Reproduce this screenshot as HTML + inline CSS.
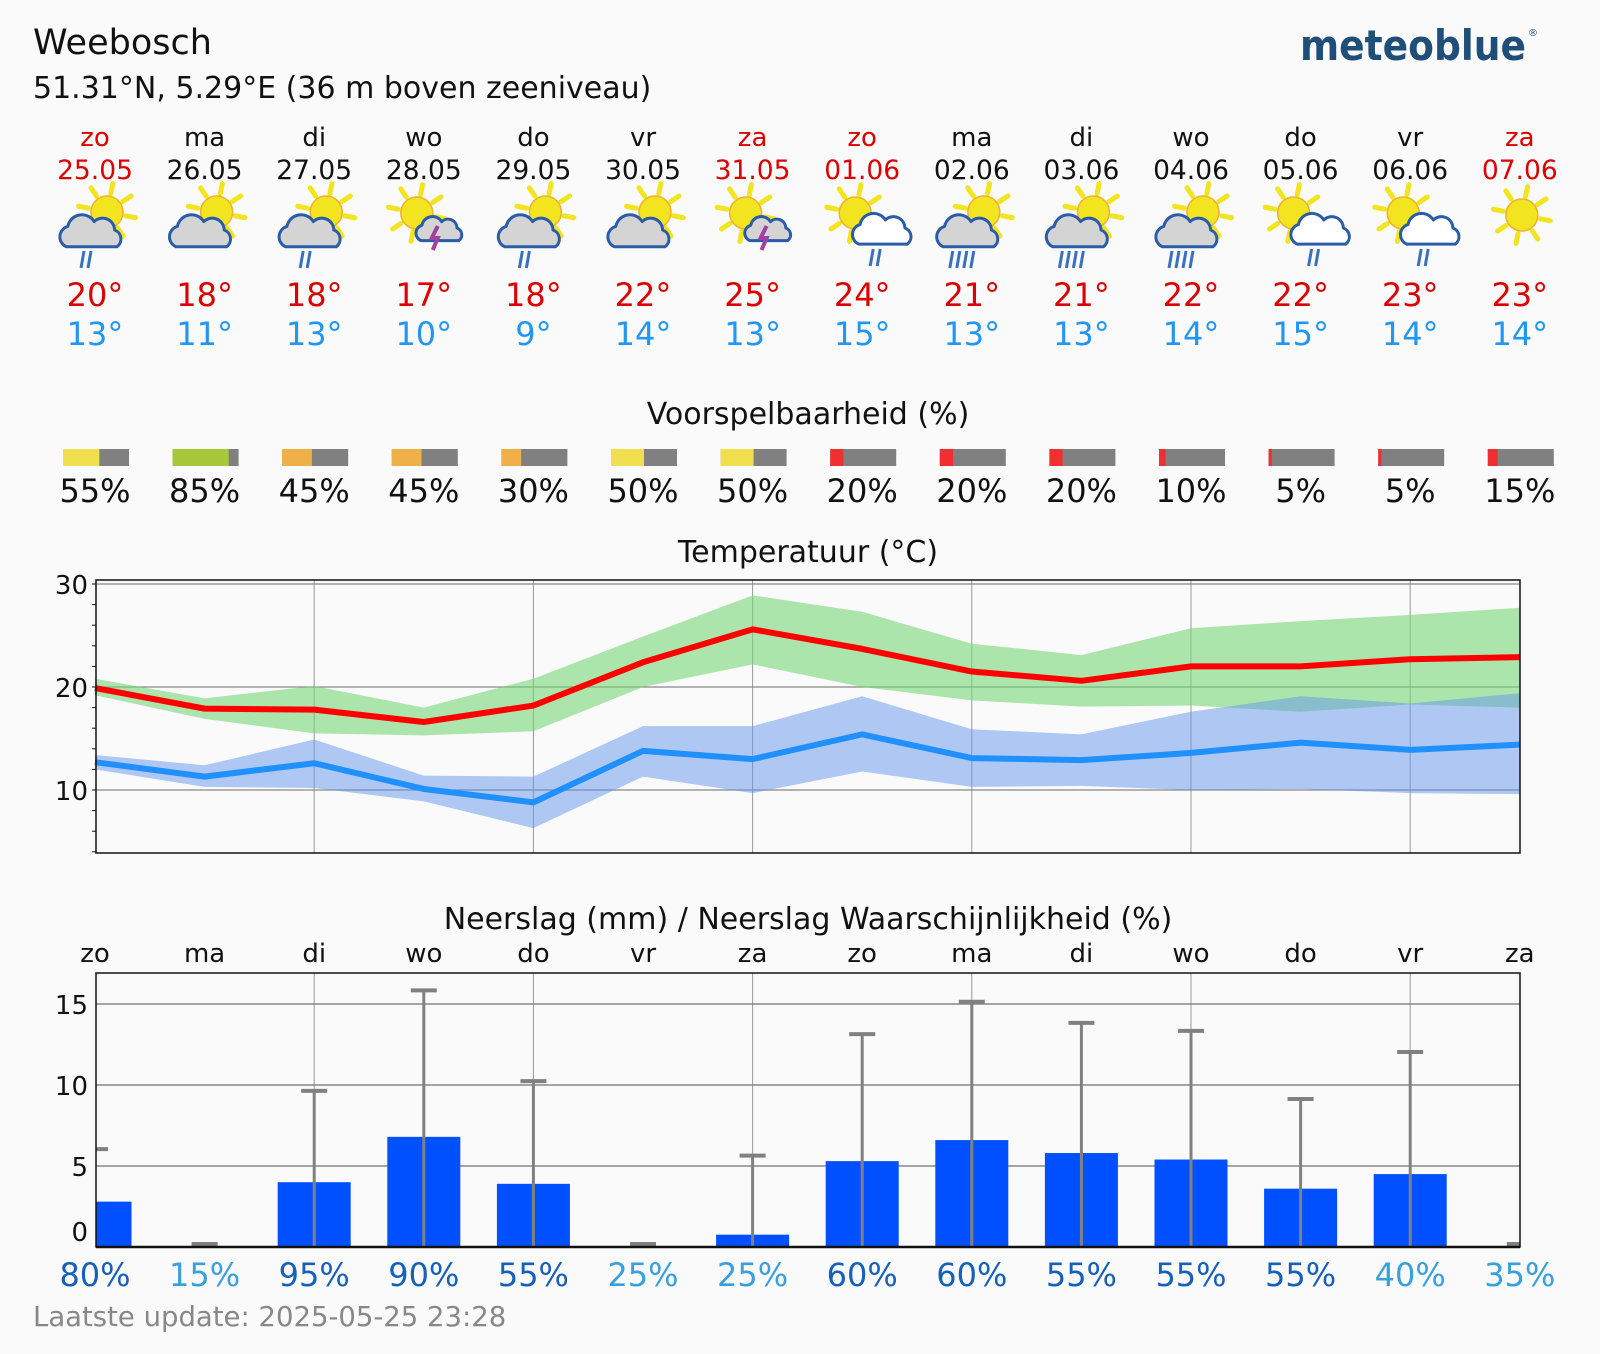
<!DOCTYPE html>
<html><head><meta charset="utf-8">
<style>
html,body{margin:0;padding:0;background:#fafafa;}
svg{display:block;font-family:"DejaVu Sans","Liberation Sans",sans-serif;}
</style></head>
<body>
<svg id="chart" width="1600" height="1354" viewBox="0 0 1600 1354" xmlns="http://www.w3.org/2000/svg">
<rect width="1600" height="1354" fill="#fafafa"/>
<text x="33" y="54" font-size="35" fill="#111">Weebosch</text>
<text x="33" y="98" font-size="30" fill="#111">51.31°N, 5.29°E (36 m boven zeeniveau)</text>
<text x="1526" y="60" font-size="42" font-weight="bold" fill="#1f4e79" text-anchor="end" font-family="DejaVu Sans, sans-serif" textLength="226" lengthAdjust="spacingAndGlyphs">meteoblue</text>
<text x="1528" y="36" font-size="10" fill="#1f4e79">®</text>
<text x="808" y="424" font-size="30" text-anchor="middle" fill="#111">Voorspelbaarheid (%)</text>
<text x="808" y="562" font-size="30" text-anchor="middle" fill="#111">Temperatuur (°C)</text>
<text x="808" y="929" font-size="30" text-anchor="middle" fill="#111">Neerslag (mm) / Neerslag Waarschijnlijkheid (%)</text>
<text x="33" y="1326" font-size="27.5" fill="#888">Laatste update: 2025-05-25 23:28</text>
<g id="g"></g>
</svg>
<script>
const days=["zo","ma","di","wo","do","vr","za","zo","ma","di","wo","do","vr","za"];
const dates=["25.05","26.05","27.05","28.05","29.05","30.05","31.05","01.06","02.06","03.06","04.06","05.06","06.06","07.06"];
const weekend=[1,0,0,0,0,0,1,1,0,0,0,0,0,1];
const icons=["cr2","c","cr2","t","cr2","c","t","sw","cr4","cr4","cr4","sw","sw","s"];
const tMaxDay=[20,18,18,17,18,22,25,24,21,21,22,22,23,23];
const tMinDay=[13,11,13,10,9,14,13,15,13,13,14,15,14,14];
const predict=[55,85,45,45,30,50,50,20,20,20,10,5,5,15];
const tMax=[19.9,17.9,17.8,16.6,18.2,22.4,25.6,23.7,21.5,20.6,22.0,22.0,22.7,22.9];
const tMaxHi=[20.8,18.9,20.1,18.0,20.8,24.9,28.9,27.3,24.2,23.1,25.7,26.4,27.0,27.7];
const tMaxLo=[19.2,16.9,15.5,15.3,15.7,20.0,22.2,20.0,18.7,18.1,18.2,17.6,18.3,18.0];
const tMin=[12.7,11.3,12.6,10.1,8.8,13.8,13.0,15.4,13.1,12.9,13.6,14.6,13.9,14.4];
const tMinHi=[13.4,12.4,14.9,11.4,11.3,16.2,16.2,19.1,15.9,15.4,17.6,19.1,18.4,19.4];
const tMinLo=[12.0,10.3,10.2,8.9,6.3,11.3,9.7,11.8,10.3,10.4,10.0,10.1,9.7,9.6];
const precip=[2.8,0,4.0,6.8,3.9,0,0.76,5.3,6.6,5.8,5.4,3.6,4.5,0];
const precipMax=[6.1,0,9.7,15.9,10.3,0,5.7,13.2,15.2,13.9,13.4,9.2,12.1,0];
const precipProb=[80,15,95,90,55,25,25,60,60,55,55,55,40,35];
const tempTicks=[10,20,30];
const precipTicks=[0,5,10,15];

const NS="http://www.w3.org/2000/svg";
const G=document.getElementById("g");
function el(t,a,p){const e=document.createElementNS(NS,t);for(const k in a)e.setAttribute(k,a[k]);(p||G).appendChild(e);return e;}
const L=96,R=1520;
const X=i=>95+i*109.6;
const TT=580,TB=853;
const yT=v=>687-(v-20)*10.3;
const PT=973,PB=1247;
const yP=v=>PB-v*16.2;

for(let i=0;i<14;i++){
  const cx=X(i),col=weekend[i]?"#dd0000":"#111";
  let t=el("text",{x:cx,y:146,"font-size":26,"text-anchor":"middle",fill:col});t.textContent=days[i];
  
  
  t=el("text",{x:cx,y:179,"font-size":26.5,"text-anchor":"middle",fill:col});t.textContent=dates[i];
  
  
  t=el("text",{x:cx,y:306,"font-size":32,"text-anchor":"middle",fill:"#dd0000"});t.textContent=tMaxDay[i]+"°";
  
  
  t=el("text",{x:cx,y:345,"font-size":32,"text-anchor":"middle",fill:"#2196f3"});t.textContent=tMinDay[i]+"°";
  
  
  drawIcon(cx,icons[i]);
  const p=predict[i],bx=cx-32,bw=66;
  const pc=p>=80?"#a8c83c":p>=50?"#f0e050":p>=30?"#f0b048":"#f03030";
  const g=el("g",{});
  
  
  el("rect",{x:bx,y:449,width:bw,height:17,fill:"#808080"},g);
  el("rect",{x:bx,y:449,width:bw*p/100,height:17,fill:pc},g);
  t=el("text",{x:cx,y:502,"font-size":32,"text-anchor":"middle",fill:"#111"});t.textContent=p+"%";
  
  
}
function sun(x,y,g){
  for(let k=0;k<8;k++){const a=k*Math.PI/4+0.2;
    el("line",{x1:x+Math.cos(a)*19,y1:y+Math.sin(a)*19,x2:x+Math.cos(a)*29,y2:y+Math.sin(a)*29,stroke:"#f2e41e","stroke-width":5,"stroke-linecap":"round"},g);}
  el("circle",{cx:x,cy:y,r:16,fill:"#f2e41e",stroke:"#f0b030","stroke-width":1.5},g);
}
function cloud(x,y,s,fill,g){
  el("path",{d:"M-22,14 a9 9 0 0 1 1,-17 a12 12 0 0 1 22,-4 a10 10 0 0 1 17,7 a8 8 0 0 1 2,14 z",fill:fill,stroke:"#2a5ca8","stroke-width":3/s,"stroke-linejoin":"round",transform:`translate(${x},${y}) scale(${s})`},g);
}
function drops(x,y,n,g){for(let k=0;k<n;k++)el("line",{x1:x+k*7+3,y1:y,x2:x+k*7,y2:y+17,stroke:"#3a70c0","stroke-width":3},g);}
function drawIcon(cx,tp){
  const g=el("g",{});
  
  
  if(tp[0]=="c"){sun(cx+12,212,g);cloud(cx-2,230,1.2,"#d4d4d4",g);
    if(tp=="cr2")drops(cx-14,251,2,g);if(tp=="cr4")drops(cx-22,251,4,g);}
  else if(tp=="t"){sun(cx-7,213,g);cloud(cx+17,228,0.9,"#d4d4d4",g);
    el("path",{d:`M${cx+14},${226} l-6,12 h6 l-5,12`,stroke:"#a040a0","stroke-width":4,fill:"none"},g);}
  else if(tp=="sw"){sun(cx-7,213,g);cloud(cx+22,228,1.15,"#ffffff",g);drops(cx+8,249,2,g);}
  else sun(cx+2,215,g);
}

const tg=el("g",{});


for(let i=2;i<14;i+=2)el("line",{x1:X(i),y1:TT,x2:X(i),y2:TB,stroke:"#999","stroke-width":1},tg);
for(const v of tempTicks){el("line",{x1:L,y1:yT(v),x2:R,y2:yT(v),stroke:"#888","stroke-width":1.2},tg);
  const t=el("text",{x:88,y:yT(v)+10,"font-size":26,"text-anchor":"end",fill:"#111"},tg);t.textContent=v;
  
  }
for(let v=4;v<=30;v+=2)el("line",{x1:L-4,y1:yT(v),x2:L,y2:yT(v),stroke:"#111"},tg);
function band(hi,lo,fill,name){const pts=hi.map((v,i)=>X(i)+","+yT(v)).concat(lo.map((v,i)=>X(i)+","+yT(v)).reverse());
  const p=el("polygon",{points:pts.join(" "),fill:fill},tg);
  
  }
function line(arr,c,name){const p=el("polyline",{points:arr.map((v,i)=>X(i)+","+yT(v)).join(" "),fill:"none",stroke:c,"stroke-width":6,"stroke-linejoin":"round"},tg);
  
  }
band(tMaxHi,tMaxLo,"rgba(120,215,120,0.6)","max-temp-range");
band(tMinHi,tMinLo,"rgba(100,150,235,0.5)","min-temp-range");
line(tMax,"#ff0000","max-temp-line");
line(tMin,"#2090ff","min-temp-line");
el("rect",{x:L,y:TT,width:R-L,height:TB-TT,fill:"none",stroke:"#111","stroke-width":1.5},tg);

const pg=el("g",{});


for(let i=2;i<14;i+=2)el("line",{x1:X(i),y1:PT,x2:X(i),y2:PB,stroke:"#999","stroke-width":1},pg);
for(const v of precipTicks){if(v>0)el("line",{x1:L,y1:yP(v),x2:R,y2:yP(v),stroke:"#888","stroke-width":1.5},pg);
  const t=el("text",{x:88,y:(v==0?PB-16:yP(v))+10,"font-size":26,"text-anchor":"end",fill:"#111"},pg);t.textContent=v;
  
  }
const clip=el("clipPath",{id:"pc"},pg);el("rect",{x:L,y:PT,width:R-L,height:PB-PT},clip);
const inner=el("g",{"clip-path":"url(#pc)"},pg);
for(let i=0;i<14;i++){
  const cx=X(i);
  let t=el("text",{x:cx,y:962,"font-size":26,"text-anchor":"middle",fill:"#111"},pg);t.textContent=days[i];
  
  
  const b=el("rect",{x:cx-36.5,y:yP(precip[i]),width:73,height:PB-yP(precip[i]),fill:"#0050ff"},inner);
  
  
  const w=el("line",{x1:cx,y1:yP(precipMax[i]),x2:cx,y2:PB,stroke:"#808080","stroke-width":3},inner);
  
  
  el("line",{x1:cx-13,y1:Math.min(yP(precipMax[i])+1,PB-3),x2:cx+13,y2:Math.min(yP(precipMax[i])+1,PB-3),stroke:"#808080","stroke-width":4},inner);
  const p=precipProb[i];
  t=el("text",{x:cx,y:1286,"font-size":32,"text-anchor":"middle",fill:p>=50?"#1560b8":"#38a0dc"},pg);t.textContent=p+"%";
  
  
}
el("rect",{x:L,y:PT,width:R-L,height:PB-PT,fill:"none",stroke:"#111","stroke-width":1.5},pg);
el("line",{x1:L,y1:PB,x2:R,y2:PB,stroke:"#111","stroke-width":2.5},pg);
</script>
</body></html>
